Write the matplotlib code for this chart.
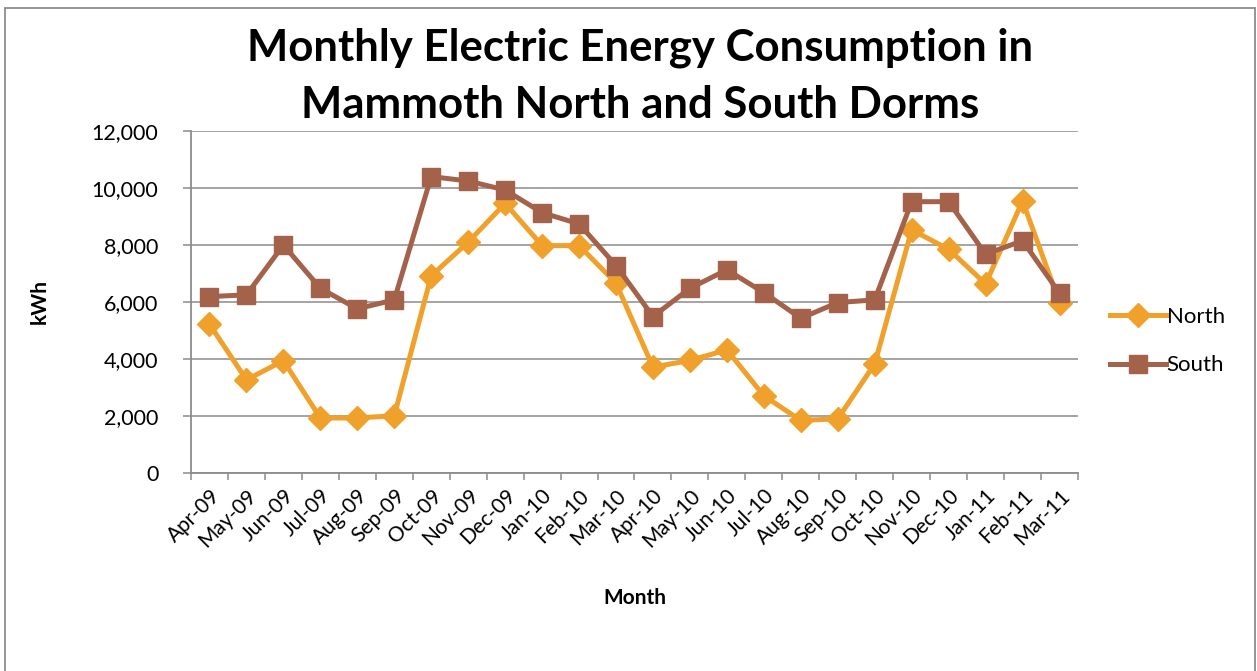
import matplotlib.pyplot as plt
from matplotlib.patches import Rectangle

# data
months = ["Apr-09", "May-09", "Jun-09", "Jul-09", "Aug-09", "Sep-09", "Oct-09", "Nov-09",
          "Dec-09", "Jan-10", "Feb-10", "Mar-10", "Apr-10", "May-10", "Jun-10", "Jul-10",
          "Aug-10", "Sep-10", "Oct-10", "Nov-10", "Dec-10", "Jan-11", "Feb-11", "Mar-11"]

north = [5220, 3270, 3940, 1930, 1930, 2010, 6920, 8100, 9460, 7980, 7980, 6660,
         3715, 3950, 4320, 2710, 1845, 1900, 3830, 8530, 7850, 6635, 9545, 5980]

south = [6190, 6250, 8000, 6480, 5760, 6075, 10400, 10245, 9930, 9135, 8740, 7280,
         5490, 6480, 7130, 6330, 5430, 5980, 6075, 9520, 9520, 7675, 8150, 6310]

plt.rcParams['font.family'] = ['Lato', 'DejaVu Sans']

W, H = 1257, 671
fig = plt.figure(figsize=(W / 100, H / 100), dpi=100)
fig.patch.set_facecolor("white")

# chart border
fig.patches.append(Rectangle((5 / W, -0.05), 1250 / W, 1.05 - 8 / H, transform=fig.transFigure,
                             fill=False, edgecolor="#8c8c8c", linewidth=1.3))

ax = fig.add_axes([191 / W, 1 - 473 / H, (1078 - 191) / W, (473 - 131) / H])

x = list(range(len(months)))
ax.plot(x, north, color="#f0a12c", linewidth=3.6, marker="D", markersize=12.5,
        label="North", solid_joinstyle="round")
ax.plot(x, south, color="#a4624a", linewidth=3.6, marker="s", markersize=13.5,
        label="South", solid_joinstyle="round")

ax.set_xlim(-0.5, len(months) - 0.5)
ax.set_ylim(0, 12000)
ax.set_yticks(range(0, 12001, 2000))
ax.set_yticklabels([f"{v:,}" for v in range(0, 12001, 2000)], fontsize=15.5)
ax.yaxis.grid(True, color="#8c8c8c", linewidth=1.1)
ax.set_axisbelow(True)

ax.set_xticks(x)
ax.set_xticklabels(months, rotation=45, ha="right", va="top", rotation_mode="anchor", fontsize=15)
ax.set_xticks([i - 0.5 for i in range(len(months) + 1)], minor=True)
ax.tick_params(axis="x", which="major", length=0, pad=9)
ax.tick_params(axis="x", which="minor", length=5, color="#8c8c8c", width=1.1)
ax.tick_params(axis="y", length=5.5, color="#8c8c8c", width=1.1, pad=18)

for s in ["top", "right"]:
    ax.spines[s].set_visible(False)
for s in ["left", "bottom"]:
    ax.spines[s].set_color("#8c8c8c")
    ax.spines[s].set_linewidth(1.3)

fig.text(640 / W, 1 - 118 / H, "Monthly Electric Energy Consumption in\nMammoth North and South Dorms",
         ha="center", va="baseline", fontsize=31.5, fontweight="bold", linespacing=1.5)
fig.text(40 / W, 1 - 302 / H, "kWh", rotation=90, ha="center", va="center",
         fontsize=15, fontweight="bold")
fig.text(635 / W, 1 - 598 / H, "Month", ha="center", va="center", fontsize=15, fontweight="bold")

ax.legend(loc="center left", bbox_to_anchor=(1090 / W, 1 - 341 / H), bbox_transform=fig.transFigure,
          frameon=False, fontsize=16, handlelength=2.5, handletextpad=0.05, labelspacing=1.3)

fig.savefig("out.png", dpi=100, facecolor="white")
